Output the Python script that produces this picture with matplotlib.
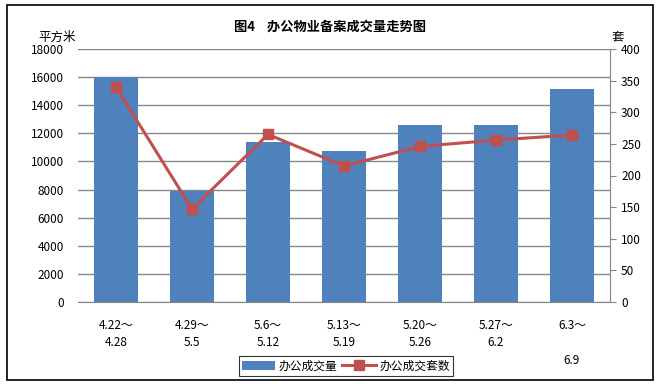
import numpy as np
import matplotlib
matplotlib.use('Agg')
import matplotlib.pyplot as plt
from matplotlib.patches import Rectangle

plt.rcParams['font.family'] = ['Noto Sans CJK SC', 'DejaVu Sans']

weeks = ['4.22～\n4.28', '4.29～\n5.5', '5.6～\n5.12', '5.13～\n5.19',
         '5.20～\n5.26', '5.27～\n6.2', '6.3～\n\n6.9']
area = [16000, 7900, 11400, 10750, 12600, 12600, 15150]
units = [340, 147, 265, 215, 246, 256, 264]

bar_color = '#4f81bd'
line_color = '#c0504d'

fig = plt.figure(figsize=(6.6, 3.84), dpi=100)
fig.patches.append(Rectangle((7/660, 4/384), 646/660, 375/384, transform=fig.transFigure,
                             fill=False, edgecolor='black', linewidth=1.2))

ax = fig.add_axes([78/660, 82/384, 532/660, 253/384])
x = np.arange(len(weeks))
b = ax.bar(x, area, width=0.57, color=bar_color, zorder=2, label='办公成交量')
ax.set_xlim(-0.5, len(weeks) - 0.5)
ax.set_ylim(0, 18000)
ax.set_yticks(np.arange(0, 18001, 2000))
ax.yaxis.grid(True, color='#868686', linewidth=1)
ax.set_axisbelow(True)
for s in ['top', 'right', 'left']:
    ax.spines[s].set_visible(False)
ax.spines['bottom'].set_color('#868686')
ax.tick_params(axis='y', length=0, labelsize=8.5, pad=10)
ax.tick_params(axis='x', length=0, labelsize=8.5, pad=12)
ax.set_xticks(x)
ax.set_xticklabels(weeks, linespacing=1.45, va='top')

ax2 = ax.twinx()
l, = ax2.plot(x, units, color=line_color, linewidth=2.2, marker='s', markersize=7,
              zorder=3, label='办公成交套数')
ax2.set_ylim(0, 400)
ax2.set_yticks(np.arange(0, 401, 50))
for s in ['top', 'left', 'bottom']:
    ax2.spines[s].set_visible(False)
ax2.spines['right'].set_color('#868686')
ax2.tick_params(axis='y', labelsize=8.5, color='#868686', length=4, pad=4)

fig.text(330/660, 1 - 27/384, '图4    办公物业备案成交量走势图', ha='center', va='center',
         fontsize=9.5, fontweight='bold')
fig.text(38/660, 1 - 37/384, '平方米', ha='left', va='center', fontsize=9)
fig.text(612/660, 1 - 37/384, '套', ha='left', va='center', fontsize=9)

leg = fig.legend(handles=[b, l], loc='center', bbox_to_anchor=(346/660, 1 - 366/384),
                 ncol=2, fontsize=8.5, frameon=True, fancybox=False, edgecolor='black',
                 handlelength=2.8, columnspacing=0.4, handletextpad=0.3, borderpad=0.3)
leg.get_frame().set_linewidth(0.8)

fig.savefig('out.png', dpi=100)
